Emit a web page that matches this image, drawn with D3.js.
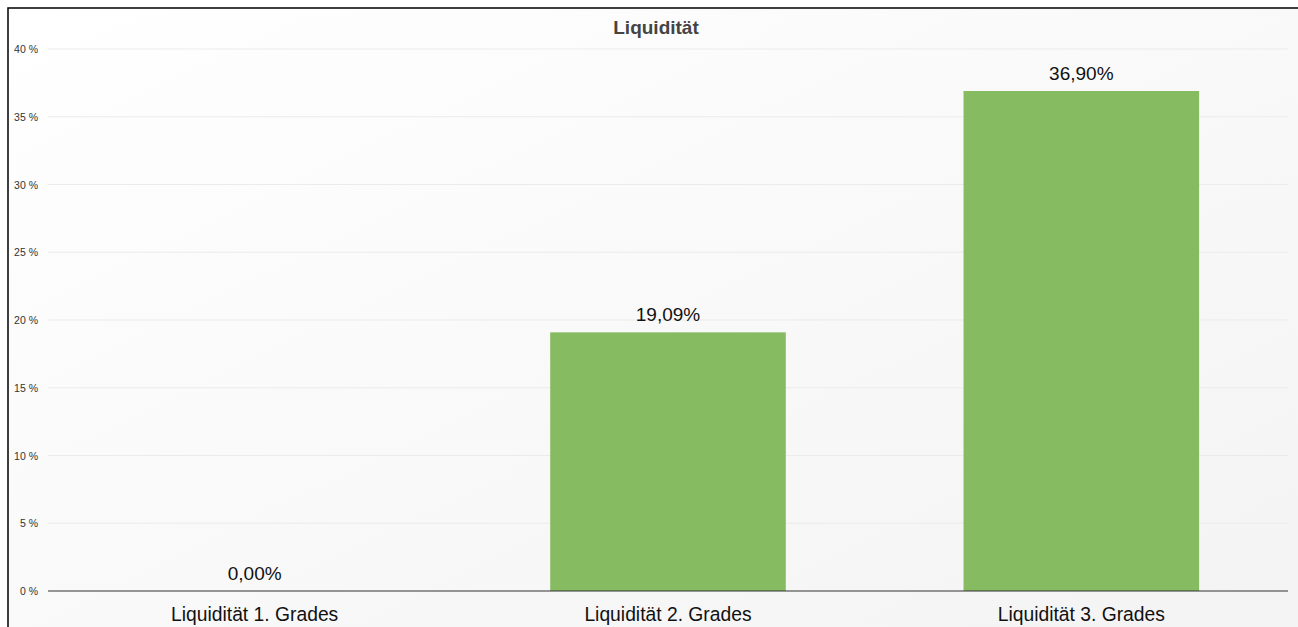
<!DOCTYPE html>
<html><head><meta charset="utf-8">
<script src="https://cdn.jsdelivr.net/npm/d3@7"></script>
<style>
html,body{margin:0;padding:0;background:#fff;overflow:hidden}
svg{display:block}
</style></head>
<body>
<svg id="c" width="1298" height="627"></svg>
<script>
const title = "Liquidität";
const categories = ["Liquidität 1. Grades", "Liquidität 2. Grades", "Liquidität 3. Grades"];
const values = [0.00, 19.09, 36.90];
const valueLabels = ["0,00%", "19,09%", "36,90%"];
const yTicks = [0, 5, 10, 15, 20, 25, 30, 35, 40];

(function(){
const svg = d3.select("#c");
const W = 1298, H = 627;
const FONT = "Liberation Sans, Arial, sans-serif";
const defs = svg.append("defs");
const grad = defs.append("linearGradient").attr("id","bg").attr("x1","0%").attr("y1","0%").attr("x2","100%").attr("y2","100%");
grad.append("stop").attr("offset","0%").attr("stop-color","#ffffff");
grad.append("stop").attr("offset","100%").attr("stop-color","#f3f3f3");

// container box
svg.append("rect").attr("x",8).attr("y",8).attr("width",W+10).attr("height",H+10)
  .attr("fill","url(#bg)").attr("stroke","#000").attr("stroke-width",1.5);

const pL = 48, pR = 1288, pT = 49, pB = 591;
const x = d3.scaleBand().domain(categories).range([pL, pR]).paddingInner(0).paddingOuter(0);
const y = d3.scaleLinear().domain([0, 40]).range([pB, pT]);
const barW = x.bandwidth() * 0.57;

// grid
svg.append("g").selectAll("line").data(yTicks.filter(t => t > 0)).join("line")
  .attr("x1", pL).attr("x2", pR)
  .attr("y1", d => y(d)).attr("y2", d => y(d))
  .attr("stroke", "#ebebeb").attr("stroke-width", 1);

// y labels
svg.append("g").selectAll("text").data(yTicks).join("text")
  .attr("x", 38).attr("y", d => y(d) + 4)
  .attr("text-anchor", "end")
  .attr("font-family", FONT)
  .attr("font-size", 10.5).attr("fill", "#333")
  .text(d => d + " %");

// bars
svg.append("g").selectAll("rect").data(values).join("rect")
  .attr("x", (d, i) => x(categories[i]) + x.bandwidth() / 2 - barW / 2)
  .attr("width", barW)
  .attr("y", d => y(d))
  .attr("height", d => y(0) - y(d))
  .attr("fill", "#87bb62");

// axis line
svg.append("line").attr("x1", pL).attr("x2", pR).attr("y1", y(0)).attr("y2", y(0))
  .attr("stroke", "#333").attr("stroke-width", 1.2);

// value labels
svg.append("g").selectAll("text").data(values).join("text")
  .attr("x", (d, i) => x(categories[i]) + x.bandwidth() / 2)
  .attr("y", d => y(d) - 11)
  .attr("text-anchor", "middle")
  .attr("font-family", FONT)
  .attr("font-size", 19).attr("fill", "#111")
  .text((d, i) => valueLabels[i]);

// x labels
svg.append("g").selectAll("text").data(categories).join("text")
  .attr("x", d => x(d) + x.bandwidth() / 2)
  .attr("y", 621)
  .attr("text-anchor", "middle")
  .attr("font-family", FONT)
  .attr("font-size", 19.3).attr("fill", "#111")
  .text(d => d);

// title
svg.append("text").attr("x", 656).attr("y", 34)
  .attr("text-anchor", "middle")
  .attr("font-family", FONT)
  .attr("font-size", 19).attr("font-weight", "bold").attr("fill", "#444")
  .text(title);
})();
</script>
</body></html>
